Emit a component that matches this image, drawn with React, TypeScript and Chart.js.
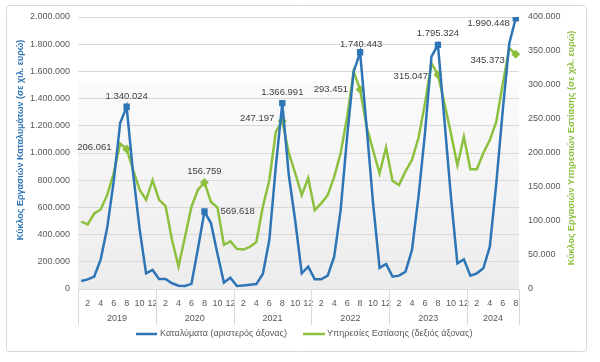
import React, { useEffect, useRef } from "react";
import { Chart, registerables } from "chart.js";

Chart.register(...registerables);

// ---- DATA ----
const years = ["2019", "2020", "2021", "2022", "2023", "2024"];
const monthsPerYear = [12, 12, 12, 12, 12, 8];

// Κύκλος εργασιών Καταλυμάτων (χιλ. ευρώ) – left axis
const accommodation = [
  59000, 71000, 91000, 218000, 450000, 790000, 1220000, 1340024, 850000, 440000, 115000, 140000,
  73000, 73000, 42000, 24000, 22000, 38000, 300000, 569618, 485000, 260000, 47000, 83000,
  22000, 26000, 31000, 36000, 110000, 360000, 900000, 1366991, 840000, 500000, 115000, 164000,
  71000, 71000, 98000, 238000, 581000, 1120000, 1598000, 1740443, 1194000, 630000, 155000, 184000,
  91000, 98000, 127000, 287000, 679000, 1145000, 1708000, 1795324, 1243000, 679000, 189000, 218000,
  98000, 115000, 152000, 311000, 777000, 1316000, 1806000, 1990448,
];

// Κύκλος εργασιών Υπηρεσιών Εστίασης (χιλ. ευρώ) – right axis
const foodService = [
  99000, 95000, 111000, 117000, 138000, 170000, 214000, 206061, 175000, 146000, 131000, 160000,
  131000, 122000, 72000, 33000, 77000, 121000, 146000, 156759, 128000, 120000, 65000, 70000,
  59000, 58000, 62000, 69000, 121000, 160000, 231000, 247197, 200000, 170000, 138000, 163000,
  116000, 126000, 138000, 165000, 200000, 253000, 320000, 293451, 239000, 204000, 170000, 208000,
  159000, 153000, 173000, 190000, 222000, 273000, 332000, 315047, 273000, 229000, 182000, 224000,
  176000, 176000, 200000, 219000, 246000, 302000, 354000, 345373,
];

const labeledIdx = [7, 19, 31, 43, 55, 67];

const leftMax = 2000000;
const leftStep = 200000;
const rightMax = 400000;
const rightStep = 50000;

const seriesNames = ["Καταλύματα (αριστερός άξονας)", "Υπηρεσίες Εστίασης (δεξιός άξονας)"];
const leftTitle = "Κύκλος Εργασιών Καταλυμάτων (σε χιλ. ευρώ)";
const rightTitle = "Κύκλος Εργασιών Υπηρεσιών Εστίασης (σε χιλ. ευρώ)";

// categories built from years/months
const categories: string[] = [];
const monthNums: number[] = [];
years.forEach((y, yi) => {
  for (let m = 1; m <= monthsPerYear[yi]; m++) {
    categories.push(`${y}-${m}`);
    monthNums.push(m);
  }
});

// ---- STYLE ----
const BLUE = "#2E75B6";
const GREEN = "#8DC03F";
const TEXT = "#595959";
const GRID = "#d9d9d9";
const FONT = "'Liberation Sans', Arial, sans-serif";

const fmt = (v: number) => Math.round(v).toString().replace(/\B(?=(\d{3})+(?!\d))/g, ".");

// label placement per labelled point (same order as labeledIdx)
const bluePlace = [
  { dx: 0, dy: -10, align: "center" },
  { dx: 16, dy: 0, align: "left" },
  { dx: 0, dy: -11, align: "center" },
  { dx: 1, dy: -8, align: "center" },
  { dx: 0, dy: -11, align: "center" },
  { dx: -6, dy: 5, align: "right" },
];
const greenPlace = [
  { dx: -15, dy: -2, align: "right" },
  { dx: 0, dy: -11, align: "center" },
  { dx: -8, dy: -3, align: "right" },
  { dx: -12, dy: 0, align: "right" },
  { dx: -10, dy: 2, align: "right" },
  { dx: -11, dy: 6, align: "right" },
];

const decorPlugin = {
  id: "decor",
  beforeDraw(chart: any) {
    const { ctx, chartArea } = chart;
    ctx.save();
    ctx.fillStyle = "#ffffff";
    ctx.fillRect(0, 0, chart.width, chart.height);
    // plot background gradient
    const yScale = chart.scales.y;
    const gTop = yScale.getPixelForValue(1530000);
    const grad = ctx.createLinearGradient(0, gTop, 0, chartArea.bottom);
    grad.addColorStop(0, "#fbfbfb");
    grad.addColorStop(1, "#ececec");
    ctx.fillStyle = grad;
    ctx.fillRect(chartArea.left, gTop, chartArea.right - chartArea.left, chartArea.bottom - gTop);
    // outer border
    ctx.strokeStyle = "#d9d9d9";
    ctx.lineWidth = 1;
    ctx.beginPath();
    (ctx as any).roundRect(6.5, 5.5, 580, 346, 3);
    ctx.stroke();
    ctx.restore();
  },
  afterDraw(chart: any) {
    const { ctx, chartArea } = chart;
    const x = chart.scales.x;
    const n = categories.length;
    const cw = (chartArea.right - chartArea.left) / n;
    ctx.save();

    // year separators and labels
    ctx.strokeStyle = GRID;
    ctx.lineWidth = 1;
    let start = 0;
    const bounds = [0];
    monthsPerYear.forEach((m) => {
      start += m;
      bounds.push(start);
    });
    bounds.forEach((b) => {
      const px = Math.round(x.getPixelForValue(b) - cw / 2) + 0.5;
      const bx = b === n ? Math.round(x.getPixelForValue(n - 1) + cw / 2) + 0.5 : px;
      ctx.beginPath();
      ctx.moveTo(bx, chartArea.bottom);
      ctx.lineTo(bx, chartArea.bottom + 36);
      ctx.stroke();
    });
    ctx.fillStyle = TEXT;
    ctx.font = `9px ${FONT}`;
    ctx.textAlign = "center";
    ctx.textBaseline = "middle";
    years.forEach((y, yi) => {
      const a = x.getPixelForValue(bounds[yi]) - cw / 2;
      const b = x.getPixelForValue(bounds[yi + 1] - 1) + cw / 2;
      ctx.fillText(y, (a + b) / 2, chartArea.bottom + 30);
    });

    // axis titles
    ctx.font = `bold 9px ${FONT}`;
    ctx.fillStyle = BLUE;
    ctx.save();
    ctx.translate(21, (chartArea.top + chartArea.bottom) / 2 - 13);
    ctx.rotate(-Math.PI / 2);
    ctx.fillText(leftTitle, 0, 0);
    ctx.restore();
    ctx.fillStyle = GREEN;
    ctx.save();
    ctx.translate(572, (chartArea.top + chartArea.bottom) / 2 - 5);
    ctx.rotate(-Math.PI / 2);
    ctx.fillText(rightTitle, 0, 0);
    ctx.restore();

    // legend
    const ly = 334;
    ctx.lineWidth = 2.5;
    ctx.strokeStyle = BLUE;
    ctx.beginPath();
    ctx.moveTo(136, ly);
    ctx.lineTo(157, ly);
    ctx.stroke();
    ctx.strokeStyle = GREEN;
    ctx.beginPath();
    ctx.moveTo(303, ly);
    ctx.lineTo(325, ly);
    ctx.stroke();
    ctx.font = `9px ${FONT}`;
    ctx.fillStyle = TEXT;
    ctx.textAlign = "left";
    ctx.fillText(seriesNames[0], 160, ly);
    ctx.fillText(seriesNames[1], 327, ly);

    // data labels
    ctx.font = `9.5px ${FONT}`;
    const drawLabels = (dsIndex: number, values: number[], place: any[]) => {
      const meta = chart.getDatasetMeta(dsIndex);
      labeledIdx.forEach((idx, k) => {
        const pt = meta.data[idx];
        const p = place[k];
        ctx.textAlign = p.align;
        ctx.fillStyle = "#404040";
        ctx.fillText(fmt(values[idx]), pt.x + p.dx, pt.y + p.dy);
      });
    };
    drawLabels(0, accommodation, bluePlace);
    drawLabels(1, foodService, greenPlace);
    ctx.restore();
  },
};

export default function App() {
  const ref = useRef<HTMLCanvasElement | null>(null);
  useEffect(() => {
    if (!ref.current) return;
    const marker = (ctx: any) => (labeledIdx.includes(ctx.dataIndex) ? 4.5 : 0);
    const chart = new Chart(ref.current, {
      type: "line",
      data: {
        labels: categories,
        datasets: [
          {
            label: seriesNames[0],
            data: accommodation,
            yAxisID: "y",
            borderColor: BLUE,
            backgroundColor: BLUE,
            borderWidth: 2.5,
            pointStyle: "rect",
            pointRadius: marker,
            pointHoverRadius: marker,
            pointBackgroundColor: BLUE,
            pointBorderWidth: 0,
            tension: 0,
            order: 1,
          },
          {
            label: seriesNames[1],
            data: foodService,
            yAxisID: "y1",
            borderColor: GREEN,
            backgroundColor: GREEN,
            borderWidth: 2.5,
            pointStyle: "rectRot",
            pointRadius: marker,
            pointHoverRadius: marker,
            pointBackgroundColor: GREEN,
            pointBorderWidth: 0,
            tension: 0,
            order: 2,
          },
        ],
      },
      options: {
        responsive: false,
        animation: false,
        devicePixelRatio: 1,
        layout: { padding: { top: 17, left: 0, right: 0, bottom: 0 } },
        plugins: {
          legend: { display: false },
          tooltip: { enabled: false },
          title: { display: false },
        },
        scales: {
          x: {
            type: "category",
            offset: true,
            grid: { display: false },
            border: { display: false },
            ticks: {
              autoSkip: false,
              maxRotation: 0,
              minRotation: 0,
              padding: 1,
              color: TEXT,
              font: { size: 9, family: FONT },
              callback: (_v: any, i: number) => (monthNums[i] % 2 === 0 ? String(monthNums[i]) : ""),
            },
            afterFit: (s: any) => {
              s.height = 73;
            },
          },
          y: {
            position: "left",
            min: 0,
            max: leftMax,
            grid: { color: GRID, lineWidth: 1, drawTicks: false },
            border: { display: false },
            ticks: {
              stepSize: leftStep,
              padding: 8,
              color: TEXT,
              font: { size: 9, family: FONT },
              callback: (v: any) => fmt(Number(v)),
            },
            afterFit: (s: any) => {
              s.width = 78;
            },
          },
          y1: {
            position: "right",
            min: 0,
            max: rightMax,
            grid: { display: false, drawTicks: false },
            border: { display: false },
            ticks: {
              stepSize: rightStep,
              padding: 9,
              color: TEXT,
              font: { size: 9, family: FONT },
              callback: (v: any) => fmt(Number(v)),
            },
            afterFit: (s: any) => {
              s.width = 81;
            },
          },
        },
      },
      plugins: [decorPlugin],
    } as any);
    return () => chart.destroy();
  }, []);
  return (
    <div style={{ position: "absolute", left: 0, top: 0, width: 600, height: 362 }}>
      <canvas ref={ref} width={600} height={362} style={{ width: 600, height: 362 }} />
    </div>
  );
}
